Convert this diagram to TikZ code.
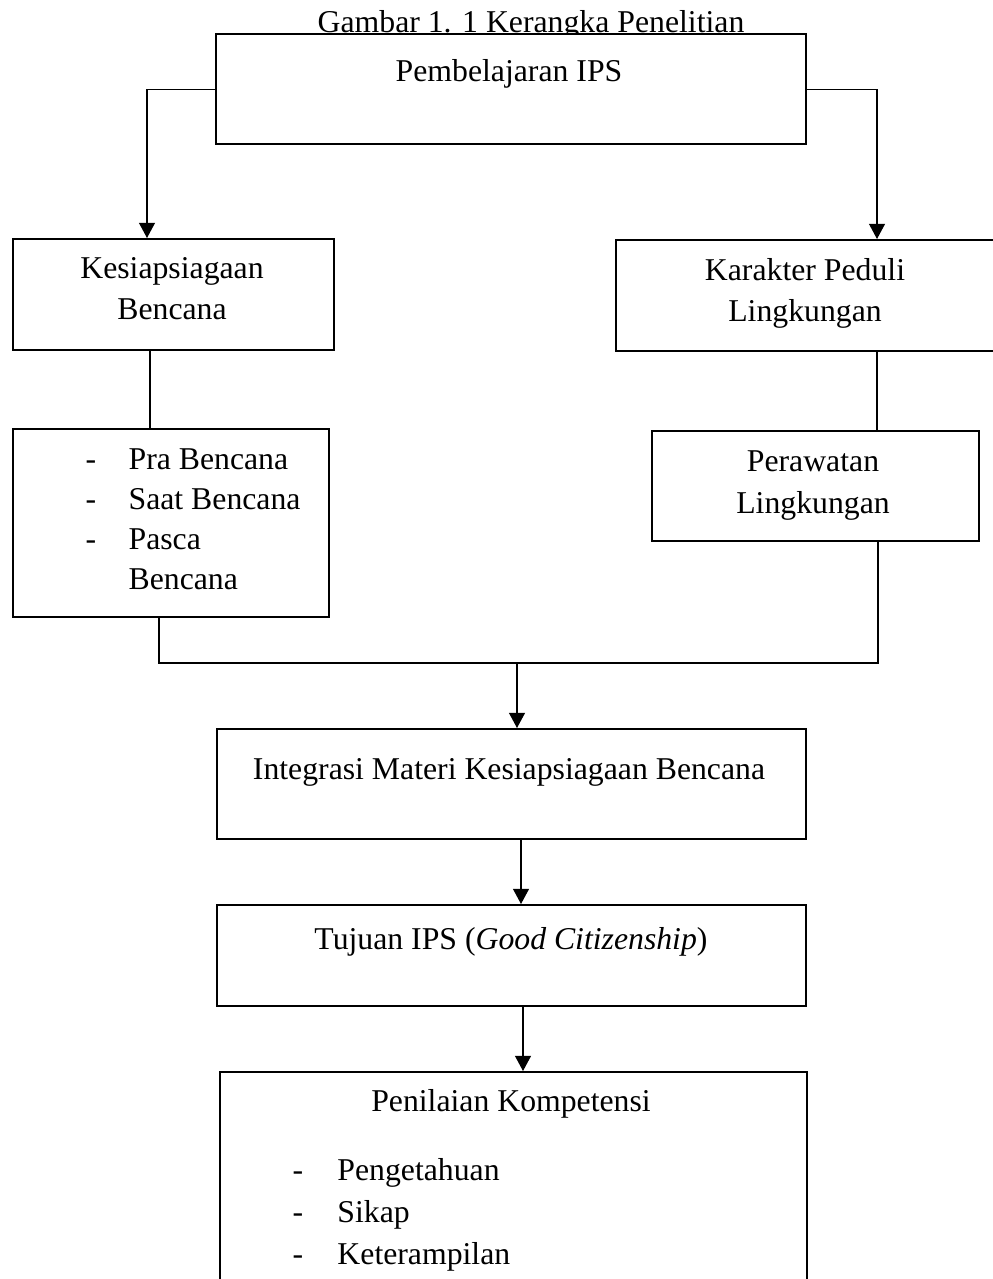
\documentclass[tikz,border=0pt]{standalone}
\usepackage{fontspec}
\setmainfont{Liberation Serif}
\usetikzlibrary{arrows.meta}
\newcommand{\pxu}{0.378pt}

\begin{document}
\begin{tikzpicture}[x=0.378pt,y=-0.378pt,
                        box/.style={draw,line width=0.9pt,fill=white,inner sep=0pt,anchor=north west},
                        txt/.style={font={\fontsize{12}{15.8}\selectfont},inner sep=0pt,anchor=base,align=center},
                        conn/.style={line width=0.45pt},
                        arr/.style={conn,-{Triangle[length=5.7pt,width=6pt]}}]
                        \useasboundingbox (0,0) rectangle (992,1279);
                        \node[txt] (judul) at (531,33) {Gambar 1. 1 Kerangka Penelitian};
                        % kotak
                        \node[box,minimum width=590*\pxu,minimum height=110*\pxu] (pembelajaran) at (215,33) {};
                        \node[box,minimum width=321*\pxu,minimum height=111*\pxu] (kesiap) at (12,238) {};
                        \node[box,minimum width=385*\pxu,minimum height=111*\pxu] (karakter) at (615,239) {};
                        \node[box,minimum width=316*\pxu,minimum height=188*\pxu] (pra) at (12,428) {};
                        \node[box,minimum width=327*\pxu,minimum height=110*\pxu] (perawatan) at (651,430) {};
                        \node[box,minimum width=589*\pxu,minimum height=110*\pxu] (integrasi) at (216,728) {};
                        \node[box,minimum width=589*\pxu,minimum height=101*\pxu] (tujuan) at (216,904) {};
                        \node[box,minimum width=587*\pxu,minimum height=240*\pxu] (penilaian) at (219,1071) {};
                        % teks (baris terakhir di titiknya)
                        \node[txt] (pembelajarantxt) at (509,82) {Pembelajaran IPS};
                        \node[txt] (kesiaptxt) at (172,320) {Kesiapsiagaan\\Bencana};
                        \node[txt] (karaktertxt) at (805,322) {Karakter Peduli\\Lingkungan};
                        \node[txt,anchor=base west,align=left,font={\fontsize{12}{15}\selectfont}] (pratxt) at (85,589)
                        {\makebox[16.3pt][l]{-}Pra Bencana\\
                         \makebox[16.3pt][l]{-}Saat Bencana\\
                         \makebox[16.3pt][l]{-}Pasca\\
                         \makebox[16.3pt][l]{}Bencana};
                        \node[txt] (perawatantxt) at (813,513) {Perawatan\\Lingkungan};
                        \node[txt] (integrasitxt) at (509,779) {Integrasi Materi Kesiapsiagaan Bencana};
                        \node[txt] (tujuantxt) at (511,949) {Tujuan IPS (\textit{Good Citizenship})};
                        \node[txt] (penilaiantxt) at (511,1111) {Penilaian Kompetensi};
                        \node[txt,anchor=base west,align=left,font={\fontsize{12}{15.7}\selectfont}] (kompetensitxt) at (292,1264)
                        {\makebox[17pt][l]{-}Pengetahuan\\
                         \makebox[17pt][l]{-}Sikap\\
                         \makebox[17pt][l]{-}Keterampilan};
                        % garis
                        \coordinate (gabung) at (517,663);
                        \draw[arr] (pembelajaran.west) -| (kesiap.north -| 147,0);
                        \draw[arr] (pembelajaran.east) -| (karakter.north -| 877,0);
                        \draw[conn] (kesiap.south -| 150,0) -- (pra.north -| 150,0);
                        \draw[conn] (karakter.south -| 877,0) -- (perawatan.north -| 877,0);
                        \draw[conn] (pra.south -| 159,0) |- (gabung) -| (perawatan.south -| 878,0);
                        \draw[arr] (gabung) -- (integrasi.north -| gabung);
                        \draw[arr] (integrasi.south -| 521,0) -- (tujuan.north -| 521,0);
                        \draw[arr] (tujuan.south -| 523,0) -- (penilaian.north -| 523,0);
                    \end{tikzpicture}
\end{document}
